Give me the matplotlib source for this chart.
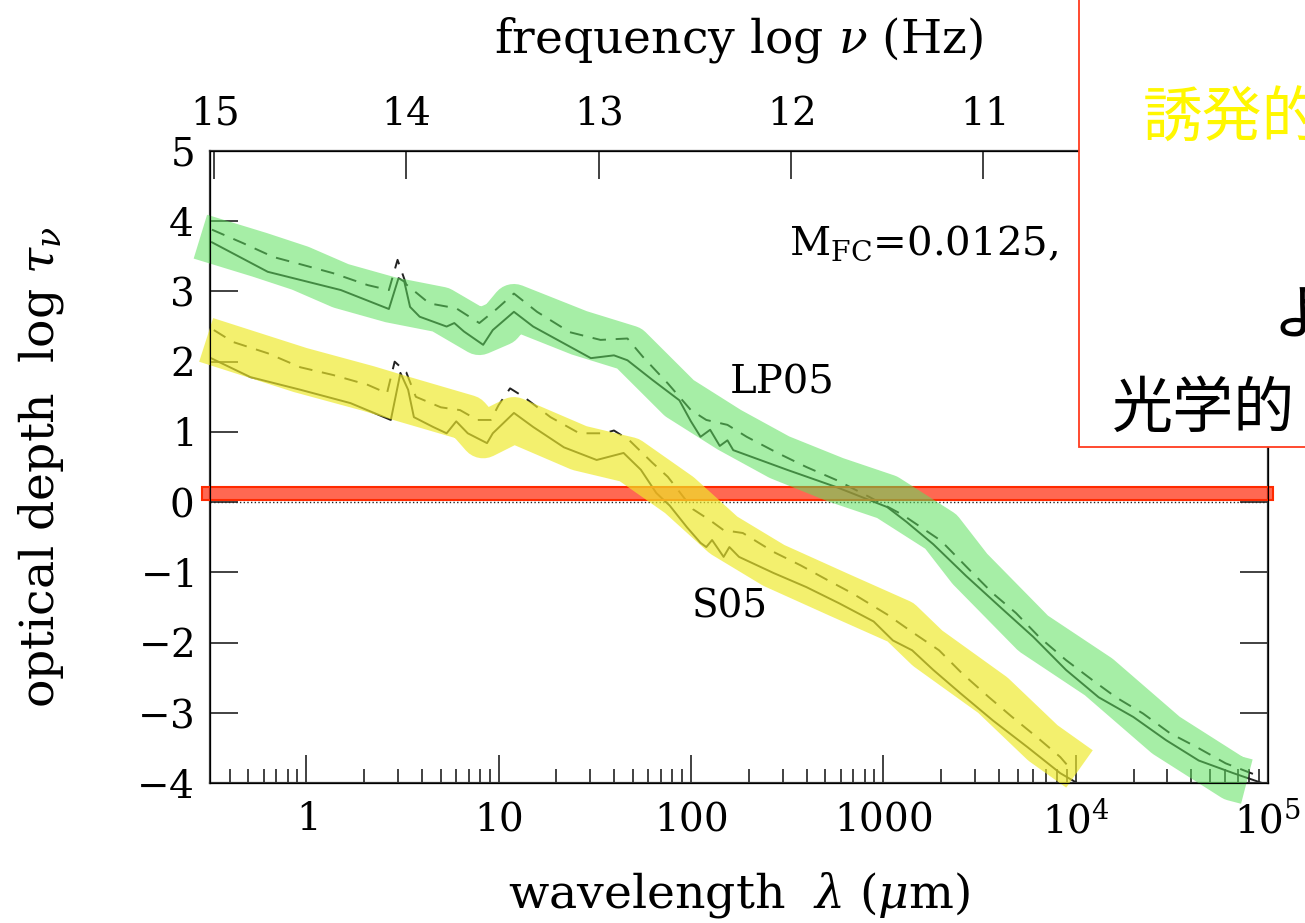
import numpy as np
import matplotlib
matplotlib.use("Agg")
import matplotlib.pyplot as plt
import matplotlib.ticker as mticker
from matplotlib.patches import Rectangle
from matplotlib.transforms import blended_transform_factory

plt.rcParams['font.family'] = ['DejaVu Serif']
plt.rcParams['mathtext.fontset'] = 'dejavuserif'

# log10 of wavelength (um) and log optical depth
lp05_solid_loglam = [-0.49, -0.20, 0.18, 0.43, 0.48, 0.51, 0.54, 0.59, 0.73, 0.77, 0.82,
                     0.92, 0.97, 1.08, 1.18, 1.34, 1.48, 1.60, 1.67, 1.80, 1.94, 2.00,
                     2.05, 2.10, 2.15, 2.19, 2.22, 2.50, 2.76, 3.02, 3.12, 3.26, 3.43,
                     3.61, 3.78, 3.95, 4.12, 4.30, 4.47, 4.64, 4.82, 4.99]
lp05_solid_tau = [3.70, 3.28, 3.02, 2.75, 3.19, 3.14, 2.78, 2.64, 2.50, 2.55, 2.43,
                  2.24, 2.45, 2.71, 2.50, 2.26, 2.05, 2.09, 2.02, 1.74, 1.45, 1.15,
                  0.93, 1.03, 0.80, 0.88, 0.74, 0.46, 0.21, -0.07, -0.28, -0.60, -1.05,
                  -1.50, -1.92, -2.39, -2.78, -3.06, -3.39, -3.68, -3.86, -4.02]

lp05_dash_loglam = [-0.49, -0.33, -0.17, -0.02, 0.14, 0.32, 0.43, 0.475, 0.52, 0.64, 0.78,
                    0.90, 0.99, 1.08, 1.20, 1.37, 1.53, 1.67, 1.75, 1.88, 2.00, 2.08,
                    2.19, 2.29, 2.45, 2.60, 2.76, 2.93, 3.10, 3.30, 3.45, 3.57, 3.69,
                    3.81, 3.95, 4.09, 4.21, 4.35, 4.49, 4.63, 4.78, 4.95]
lp05_dash_tau = [3.88, 3.69, 3.49, 3.38, 3.26, 3.09, 3.02, 3.45, 3.10, 2.83, 2.76,
                 2.55, 2.75, 2.97, 2.71, 2.42, 2.31, 2.33, 2.07, 1.69, 1.31, 1.17,
                 1.10, 0.93, 0.70, 0.50, 0.31, 0.07, -0.18, -0.55, -0.97, -1.30, -1.58,
                 -1.92, -2.25, -2.54, -2.78, -3.01, -3.29, -3.49, -3.72, -3.90]

s05_solid_loglam = [-0.51, -0.29, -0.03, 0.23, 0.44, 0.49, 0.53, 0.56, 0.66, 0.73, 0.78,
                    0.84, 0.94, 0.97, 1.08, 1.18, 1.34, 1.51, 1.65, 1.74, 1.82, 1.89,
                    1.98, 2.05, 2.08, 2.11, 2.17, 2.20, 2.25, 2.43, 2.60, 2.77, 2.95,
                    3.05, 3.15, 3.26, 3.40, 3.57, 3.75, 3.92, 4.07]
s05_solid_tau = [2.07, 1.78, 1.60, 1.41, 1.17, 1.84, 1.60, 1.21, 1.07, 0.98, 1.15,
                 0.98, 0.84, 0.98, 1.27, 1.07, 0.78, 0.60, 0.70, 0.46, 0.13, -0.05,
                 -0.36, -0.58, -0.64, -0.54, -0.78, -0.64, -0.78, -1.01, -1.21, -1.44, -1.70,
                 -1.97, -2.11, -2.39, -2.72, -3.11, -3.49, -3.86, -4.10]

s05_dash_loglam = [-0.48, -0.38, -0.20, -0.03, 0.14, 0.32, 0.42, 0.46, 0.52, 0.57, 0.70,
                   0.80, 0.89, 0.96, 1.00, 1.06, 1.13, 1.27, 1.42, 1.55, 1.60, 1.68,
                   1.80, 1.88, 2.01, 2.10, 2.17, 2.27, 2.43, 2.57, 2.71, 2.84, 3.02,
                   3.15, 3.29, 3.41, 3.55, 3.67, 3.80, 3.92, 3.98]
s05_dash_tau = [2.45, 2.28, 2.12, 1.92, 1.81, 1.67, 1.55, 2.00, 1.85, 1.50, 1.35,
                1.31, 1.17, 1.17, 1.38, 1.62, 1.50, 1.21, 0.98, 0.98, 1.02, 0.88,
                0.56, 0.36, -0.10, -0.26, -0.40, -0.44, -0.71, -0.90, -1.11, -1.30, -1.60,
                -1.85, -2.11, -2.44, -2.78, -3.06, -3.35, -3.63, -3.82]

# hand-drawn highlighter strokes (centre lines)
green_band_loglam = [-0.55, -0.24, -0.03, 0.18, 0.44, 0.70, 0.90, 1.01, 1.08, 1.42, 1.68,
                     1.94, 2.20, 2.46, 2.75, 3.02, 3.30, 3.45, 3.78, 4.12, 4.47, 4.82, 4.89]
green_band_tau = [3.78, 3.52, 3.33, 3.08, 2.88, 2.74, 2.42, 2.55, 2.78, 2.41, 2.19,
                  1.48, 1.03, 0.64, 0.32, 0.07, -0.42, -0.95, -1.87, -2.49, -3.32, -3.93, -3.98]
yellow_band_loglam = [-0.52, -0.03, 0.32, 0.49, 0.84, 0.92, 1.08, 1.42, 1.68, 1.94,
                      2.17, 2.43, 2.77, 3.09, 3.23, 3.57, 3.83, 4.02]
yellow_band_tau = [2.31, 1.88, 1.62, 1.48, 1.20, 0.95, 1.17, 0.77, 0.60, 0.10,
                   -0.47, -0.90, -1.32, -1.71, -2.08, -2.75, -3.43, -3.80]

lam_ticks = [1, 10, 100, 1000, 1e4, 1e5]
lam_ticklabels = ['$1$', '$10$', '$100$', '$1000$', '$10^4$', '$10^5$']
nu_ticks = [15, 14, 13, 12, 11]
y_ticks = [-4, -3, -2, -1, 0, 1, 2, 3, 4, 5]


def lam(v):
    return 10 ** np.asarray(v)


fig = plt.figure(figsize=(13.05, 9.23), dpi=100)
ax = fig.add_axes([210 / 1305, 1 - 783 / 923, 1058 / 1305, 632 / 923])

ink = '#222222'
dash = (0, (7, 5))
ax.plot(lam(lp05_solid_loglam), lp05_solid_tau, color=ink, lw=1.4, zorder=2)
ax.plot(lam(lp05_dash_loglam), lp05_dash_tau, color=ink, lw=1.4, ls=dash, zorder=2)
ax.plot(lam(s05_solid_loglam), s05_solid_tau, color=ink, lw=1.4, zorder=2)
ax.plot(lam(s05_dash_loglam), s05_dash_tau, color=ink, lw=1.4, ls=dash, zorder=2)
ax.axhline(0, color=ink, lw=1.0, ls=':', zorder=2)

# red highlight bar just above tau = 1
bar = Rectangle((-0.0076, 0.03), 1.0123, 0.185,
                transform=blended_transform_factory(ax.transAxes, ax.transData),
                facecolor=(1.0, 0.13, 0.0, 0.68), edgecolor='#ff2a00', lw=1.5,
                clip_on=False, zorder=3)
ax.add_patch(bar)

ax.plot(lam(green_band_loglam), green_band_tau, color='#5ee05e', alpha=0.55, lw=33,
        solid_capstyle='butt', solid_joinstyle='round', clip_on=False, zorder=4)
ax.plot(lam(yellow_band_loglam), yellow_band_tau, color='#eeea2a', alpha=0.68, lw=33,
        solid_capstyle='butt', solid_joinstyle='round', clip_on=False, zorder=4)

ax.set_xscale('log')
ax.set_xlim(10 ** -0.5, 1e5)
ax.set_ylim(-4, 5)
ax.set_xticks(lam_ticks)
ax.set_xticklabels(lam_ticklabels)
ax.xaxis.set_minor_locator(mticker.LogLocator(base=10, subs=np.arange(2, 10), numticks=100))
ax.xaxis.set_minor_formatter(mticker.NullFormatter())
ax.set_yticks(y_ticks)
ax.set_yticklabels([f'${v}$' for v in y_ticks])
ax.tick_params(which='both', direction='in', right=True, color='#333333', width=1.3,
               labelsize=28)
ax.tick_params(which='major', length=20)
ax.tick_params(which='minor', length=10)
ax.tick_params(axis='x', pad=13)
ax.tick_params(axis='y', pad=12)
for s in ax.spines.values():
    s.set_linewidth(1.6)
    s.set_color('#333333')

ax.set_xlabel(r'wavelength  $\lambda$ ($\mu$m)', fontsize=34, labelpad=21)
ax.set_ylabel(r'optical depth  log $\tau_\nu$', fontsize=34, labelpad=50)

top = ax.twiny()
top.set_xscale('log')
top.set_xlim(ax.get_xlim())
top.set_xticks([10 ** (14.52 - n) for n in nu_ticks])
top.set_xticklabels([f'${n}$' for n in nu_ticks])
top.xaxis.set_minor_locator(mticker.NullLocator())
top.tick_params(direction='in', length=20, width=1.3, color='#333333', labelsize=28, pad=13)
top.set_xlabel(r'frequency log $\nu$ (Hz)', fontsize=34, labelpad=31)

ax.text(10 ** 2.51, 3.69, r'M$_{\rm FC}$=0.0125,', fontsize=29, va='center', ha='left')
ax.text(10 ** 2.20, 1.70, 'LP05', fontsize=29, va='center', ha='left')
ax.text(10 ** 2.005, -1.50, 'S05', fontsize=28, va='center', ha='left')

# slide text box on the right
box = Rectangle((1079 / 1305, 1 - 447 / 923), 0.3, 0.6, transform=fig.transFigure,
                facecolor='white', edgecolor='#ff3b1f', lw=1.3, zorder=5)
fig.add_artist(box)
cjk = ['Noto Sans CJK JP', 'DejaVu Sans']
fig.text(1143 / 1305, 1 - 120 / 923, '誘発的', color='#fff700', fontsize=43,
         family=cjk, va='center', ha='left', zorder=6)
fig.text(1272 / 1305, 1 - 318 / 923, 'よ', color='black', fontsize=43,
         family=cjk, va='center', ha='left', zorder=6)
fig.text(1112 / 1305, 1 - 410 / 923, '光学的', color='black', fontsize=44,
         family=cjk, va='center', ha='left', zorder=6)

fig.savefig('out.png', dpi=100)
